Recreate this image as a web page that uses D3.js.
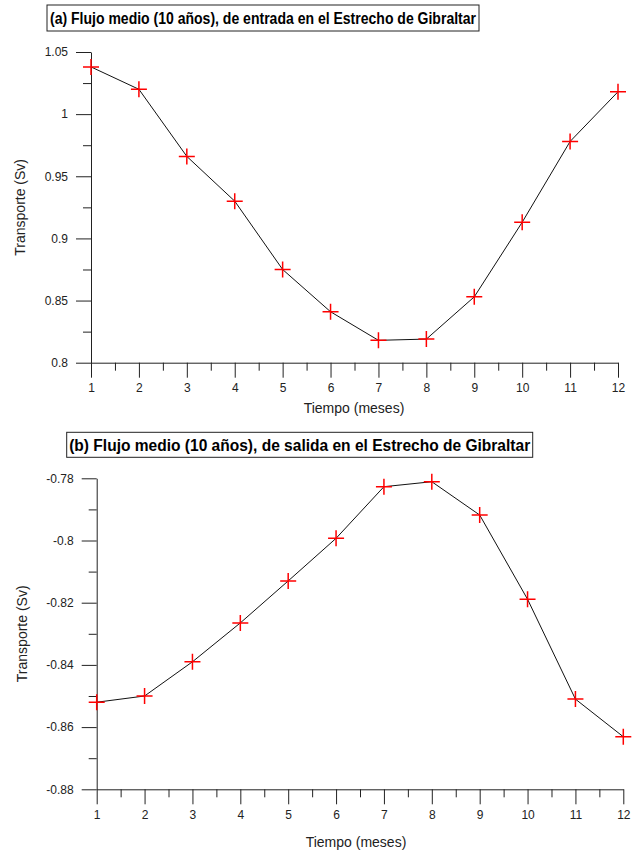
<!DOCTYPE html>
<html>
<head>
<meta charset="utf-8">
<script src="https://cdn.jsdelivr.net/npm/d3@7"></script>
<style>
  html, body { margin: 0; padding: 0; background: #fff; }
  svg { display: block; }
  .tick text { font-family: "Liberation Sans", Arial, Helvetica, sans-serif; font-size: 12px; fill: #222; }
  .tick line, .domain { stroke: #222; stroke-width: 1; }
</style>
</head>
<body>
<svg id="chart" width="632" height="854"></svg>
<script>
// ---------- data ----------
const months = [1, 2, 3, 4, 5, 6, 7, 8, 9, 10, 11, 12];
const inflow = [1.038, 1.020, 0.966, 0.930, 0.875, 0.841, 0.818, 0.819, 0.853, 0.913, 0.978, 1.018];
const outflow = [-0.852, -0.850, -0.839, -0.8265, -0.813, -0.7993, -0.7827, -0.7811, -0.7918, -0.8189, -0.851, -0.8631];

const xMajorTicks = months;
const xMinorTicks = [1.5, 2.5, 3.5, 4.5, 5.5, 6.5, 7.5, 8.5, 9.5, 10.5, 11.5];

const yTopMajor = [0.8, 0.85, 0.9, 0.95, 1.0, 1.05];
const yTopLabels = ["0.8", "0.85", "0.9", "0.95", "1", "1.05"];
const yTopMinor = [0.825, 0.875, 0.925, 0.975, 1.025];

const yBotMajor = [-0.88, -0.86, -0.84, -0.82, -0.8, -0.78];
const yBotLabels = ["-0.88", "-0.86", "-0.84", "-0.82", "-0.8", "-0.78"];
const yBotMinor = [-0.87, -0.85, -0.83, -0.81, -0.79];

const titleTop = "(a) Flujo medio (10 años), de entrada en el Estrecho de Gibraltar";
const titleBot = "(b) Flujo medio (10 años), de salida en el Estrecho de Gibraltar";
const xLabel = "Tiempo (meses)";
const yLabel = "Transporte (Sv)";

// ---------- drawing ----------
const svg = d3.select("#chart");

function panel(cfg) {
  const g = svg.append("g");
  const x = d3.scaleLinear().domain([1, 12]).range([cfg.x0, cfg.x1]);
  const y = d3.scaleLinear().domain(cfg.yDomain).range([cfg.yBottom, cfg.yTop]);

  // title box
  const tw = cfg.titleWidth;
  const tb = g.append("g");
  tb.append("rect")
    .attr("x", cfg.titleCx - cfg.boxW / 2).attr("y", cfg.boxY)
    .attr("width", cfg.boxW).attr("height", cfg.boxH)
    .attr("fill", "none").attr("stroke", "#222").attr("stroke-width", 1);
  tb.append("text")
    .attr("x", cfg.titleCx).attr("y", cfg.titleBaseline)
    .attr("text-anchor", "middle")
    .attr("font-family", "'Liberation Sans Narrow', 'Arial Narrow', 'Liberation Sans', Arial, sans-serif")
    .attr("font-weight", "bold").attr("font-size", 16)
    .attr("textLength", tw).attr("lengthAdjust", "spacingAndGlyphs")
    .attr("fill", "#000")
    .text(cfg.title);

  // y axis minor + major
  g.append("g").attr("transform", `translate(${cfg.x0},0)`)
    .call(d3.axisLeft(y).tickValues(cfg.yMinor).tickSize(8).tickSizeOuter(0).tickFormat(""))
    .call(s => s.select(".domain").remove());
  g.append("g").attr("transform", `translate(${cfg.x0},0)`)
    .call(d3.axisLeft(y).tickValues(cfg.yMajor).tickSize(15).tickSizeOuter(0).tickPadding(8)
      .tickFormat((d, i) => cfg.yLabels[i]));

  // x axis minor + major
  g.append("g").attr("transform", `translate(0,${cfg.yBottom})`)
    .call(d3.axisBottom(x).tickValues(xMinorTicks).tickSize(8).tickSizeOuter(0).tickFormat(""))
    .call(s => s.select(".domain").remove());
  g.append("g").attr("transform", `translate(0,${cfg.yBottom})`)
    .call(d3.axisBottom(x).tickValues(xMajorTicks).tickSize(15).tickSizeOuter(0).tickPadding(6)
      .tickFormat(d3.format("d")));

  // axis labels
  g.append("text")
    .attr("x", cfg.xLabelX).attr("y", cfg.xLabelY)
    .attr("text-anchor", "middle")
    .attr("font-family", "'Liberation Sans', Arial, sans-serif").attr("font-size", 14)
    .attr("fill", "#222").text(xLabel);
  g.append("text")
    .attr("transform", `translate(${cfg.yLabelX},${(cfg.yTop + cfg.yBottom) / 2}) rotate(-90)`)
    .attr("text-anchor", "middle")
    .attr("font-family", "'Liberation Sans', Arial, sans-serif").attr("font-size", 14)
    .attr("fill", "#222").text(yLabel);

  // line
  const pts = months.map((m, i) => [m, cfg.values[i]]);
  g.append("path")
    .datum(pts)
    .attr("fill", "none").attr("stroke", "#111").attr("stroke-width", 1)
    .attr("d", d3.line().x(d => x(d[0])).y(d => y(d[1])));

  // plus markers
  const r = 8;
  const mk = g.append("g").attr("stroke", "#ff0000").attr("stroke-width", 1.5);
  mk.selectAll("path.plus").data(pts).join("path")
    .attr("class", "plus")
    .attr("d", d => {
      const px = x(d[0]), py = y(d[1]);
      return `M${px - r},${py}H${px + r}M${px},${py - r}V${py + r}`;
    });
}

panel({
  x0: 91, x1: 618, yTop: 52, yBottom: 362.7,
  yDomain: [0.8, 1.05], yMajor: yTopMajor, yMinor: yTopMinor, yLabels: yTopLabels,
  values: inflow,
  title: titleTop, titleCx: 263, boxW: 432, boxY: 5, boxH: 26, titleBaseline: 24, titleWidth: 426,
  xLabelX: 354, xLabelY: 413, yLabelX: 25
});

panel({
  x0: 96.7, x1: 623.3, yTop: 478.3, yBottom: 789.3,
  yDomain: [-0.88, -0.78], yMajor: yBotMajor, yMinor: yBotMinor, yLabels: yBotLabels,
  values: outflow,
  title: titleBot, titleCx: 299.7, boxW: 466, boxY: 432.3, boxH: 25, titleBaseline: 450.7, titleWidth: 461,
  xLabelX: 356, xLabelY: 847, yLabelX: 27
});
</script>
</body>
</html>
